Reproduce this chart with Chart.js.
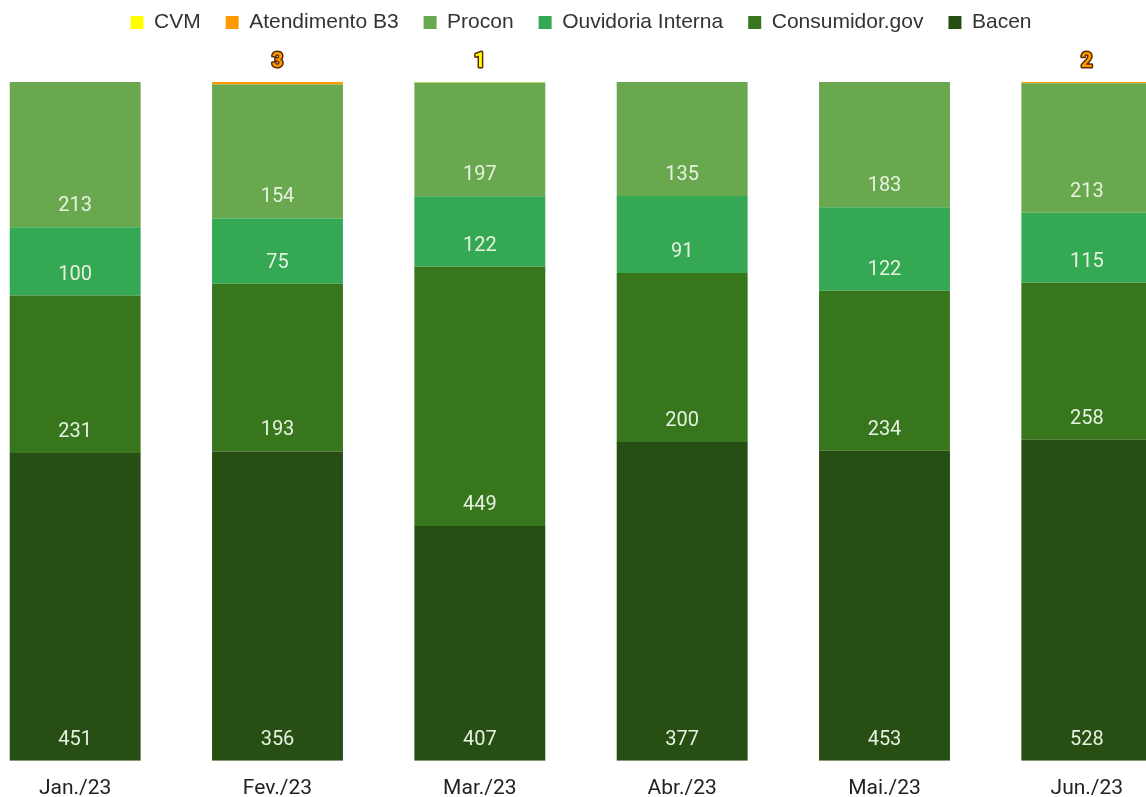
<!DOCTYPE html>
<html>
<head>
<meta charset="utf-8">
<script src="https://cdn.jsdelivr.net/npm/chart.js@4"></script>
<style>
  html, body { margin: 0; padding: 0; background: #fff; overflow: hidden; }
  .chart { position: absolute; left: -26px; top: 0; width: 1214px; height: 816px; }
</style>
</head>
<body>
<div class="chart"><canvas id="c"></canvas></div>
<script>
// Data (bottom of stack first)
const months = ['Jan./23', 'Fev./23', 'Mar./23', 'Abr./23', 'Mai./23', 'Jun./23'];
const bacen = [451, 356, 407, 377, 453, 528];
const consumidorGov = [231, 193, 449, 200, 234, 258];
const ouvidoria = [100, 75, 122, 91, 122, 115];
const procon = [213, 154, 197, 135, 183, 213];
const atendimentoB3 = [0, 3, 0, 0, 0, 2];
const cvm = [0, 0, 1, 0, 0, 0];

const series = [
  { label: 'Bacen', values: bacen, color: '#274e13' },
  { label: 'Consumidor.gov', values: consumidorGov, color: '#38761d' },
  { label: 'Ouvidoria Interna', values: ouvidoria, color: '#34a853' },
  { label: 'Procon', values: procon, color: '#6aa84f' },
  { label: 'Atendimento B3', values: atendimentoB3, color: '#ff9900' },
  { label: 'CVM', values: cvm, color: '#ffff00' },
];

// totals per month -> 100% stacked
const totals = months.map((_, i) => series.reduce((s, d) => s + d.values[i], 0));

// extra room under the legend for the small labels above the bars
const legendSpace = {
  id: 'legendSpace',
  beforeInit(chart) {
    const fit = chart.legend.fit;
    chart.legend.fit = function () {
      fit.call(this);
      this.height += 39;
    };
  }
};

const segLabels = {
  id: 'segLabels',
  afterDatasetsDraw(chart) {
    const ctx = chart.ctx;
    ctx.save();
    ctx.textAlign = 'center';
    ctx.textBaseline = 'middle';
    chart.data.datasets.forEach((ds, di) => {
      const meta = chart.getDatasetMeta(di);
      meta.data.forEach((bar, i) => {
        const v = ds.raw[i];
        if (!v) return;
        if (v >= 10) {
          ctx.font = '20px Roboto';
          ctx.fillStyle = '#e6f2e0';
          ctx.fillText(String(v), bar.x, bar.base - 21);
        } else {
          const y = chart.chartArea.top - 20;
          ctx.font = 'bold 20px Roboto';
          ctx.lineWidth = 3;
          ctx.lineJoin = 'round';
          ctx.strokeStyle = '#5a2a00';
          ctx.strokeText(String(v), bar.x, y);
          ctx.fillStyle = ds.backgroundColor;
          ctx.fillText(String(v), bar.x, y);
        }
      });
    });
    ctx.restore();
  }
};

new Chart(document.getElementById('c'), {
  type: 'bar',
  data: {
    labels: months,
    datasets: series.map(s => ({
      label: s.label,
      raw: s.values,
      data: s.values.map((v, i) => v / totals[i] * 100),
      backgroundColor: s.color,
      borderWidth: 0,
      categoryPercentage: 1,
      barPercentage: 0.647,
    }))
  },
  options: {
    responsive: true,
    maintainAspectRatio: false,
    animation: false,
    layout: { padding: { top: -13, bottom: 0 } },
    plugins: {
      tooltip: { enabled: false },
      legend: {
        position: 'top',
        reverse: true,
        labels: {
          boxWidth: 13,
          boxHeight: 13,
          padding: 25,
          color: '#333',
          font: { family: 'Liberation Sans', size: 21 },
        }
      }
    },
    scales: {
      x: {
        stacked: true,
        grid: { display: false, drawTicks: false },
        border: { display: false },
        ticks: { color: '#222', font: { family: 'Roboto', size: 21 }, padding: 15 }
      },
      y: {
        stacked: true,
        display: false,
        min: 0,
        max: 100
      }
    }
  },
  plugins: [legendSpace, segLabels]
});
</script>
</body>
</html>
